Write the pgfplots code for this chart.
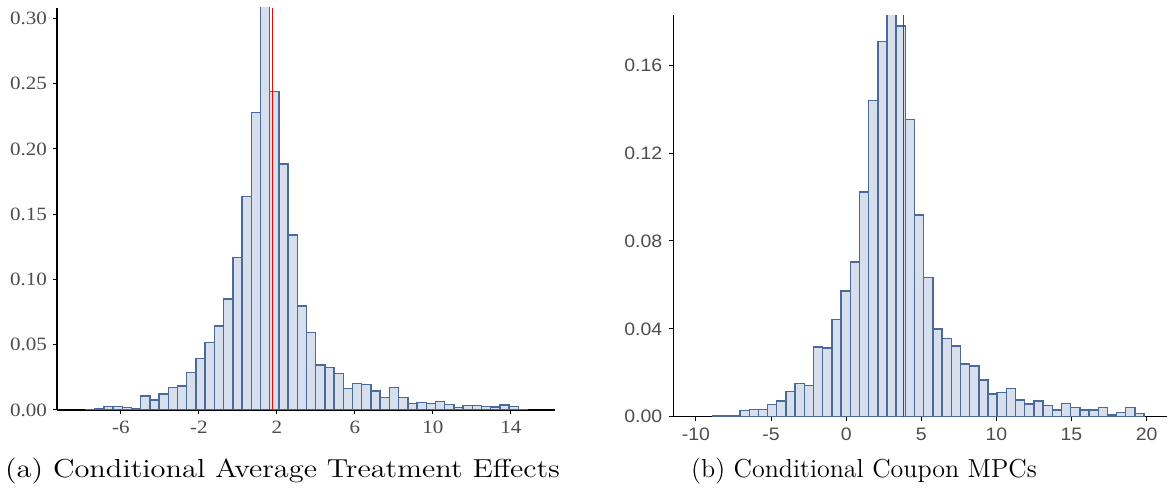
\documentclass[border=0pt]{standalone}
\usepackage{graphicx}
\usepackage{pgfplots}
\pgfplotsset{compat=1.18}
\usepackage{fontspec}
\newfontfamily\lserif{Liberation Serif}
\newfontfamily\lsans{Liberation Sans}
\definecolor{barfill}{HTML}{D6DFEB}
\definecolor{baredge}{HTML}{4B6A9C}
\definecolor{ticktext}{HTML}{4D4D4D}
\newcommand{\ls}[1]{{\fontsize{9.4pt}{10pt}\lserif\scalebox{1.12}[1]{#1}}}
\newcommand{\rs}[1]{{\fontsize{9pt}{10pt}\lsans\scalebox{1.08}[1]{#1}}}
\begin{document}
\begin{tikzpicture}
\path[use as bounding box] (0,0) rectangle (586.5pt,246pt);
\pgfplotsset{
  histo/.style={
    scale only axis,
    axis x line*=bottom, axis y line*=left,
    axis line style={black, line width=0.6pt, -},
    tick align=outside, major tick length=2pt,
    tick style={black, line width=0.5pt},
    minor tick num=0,
    clip=true,
  }
}
% ---------- Left panel ----------
\begin{axis}[histo,
  at={(28.5pt,41pt)}, anchor=south west,
  width=249pt, height=201pt,
  xmin=-9.28, xmax=16.26, ymin=0, ymax=0.308,
  xtick={-6,-2,2,6,10,14}, xticklabels={\ls{-6},\ls{-2},\ls{2},\ls{6},\ls{10},\ls{14}},
  ytick={0,0.05,0.10,0.15,0.20,0.25,0.30},
  yticklabels={\ls{0.00},\ls{0.05},\ls{0.10},\ls{0.15},\ls{0.20},\ls{0.25},\ls{0.30}},
  tick label style={text=ticktext},
  yticklabel style={xshift=0.5pt},
]
\addplot[ybar interval, fill=barfill, draw=baredge, line width=0.7pt] coordinates {
(-7.820,0.0005) (-7.348,0.0010) (-6.875,0.0026) (-6.403,0.0026) (-5.931,0.0020)
(-5.459,0.0010) (-4.986,0.0107) (-4.514,0.0077) (-4.042,0.0123) (-3.569,0.0171)
(-3.097,0.0184) (-2.625,0.0286) (-2.152,0.0396) (-1.680,0.0516) (-1.208,0.0643)
(-0.735,0.0850) (-0.263,0.1167) (0.209,0.1634) (0.681,0.2277) (1.154,0.3100)
(1.626,0.2438) (2.098,0.1884) (2.571,0.1340) (3.043,0.0797) (3.515,0.0595)
(3.988,0.0345) (4.460,0.0324) (4.932,0.0281) (5.405,0.0163) (5.877,0.0204)
(6.349,0.0197) (6.821,0.0146) (7.294,0.0094) (7.766,0.0171) (8.238,0.0094)
(8.711,0.0051) (9.183,0.0059) (9.655,0.0051) (10.128,0.0064) (10.600,0.0041)
(11.072,0.0020) (11.545,0.0036) (12.017,0.0036) (12.489,0.0028) (12.961,0.0023)
(13.434,0.0038) (13.906,0.0026) (14.378,0.0005) (14.851,0.0005)
};
\addplot[red, line width=0.55pt] coordinates {(1.77,0) (1.77,0.308)};
\end{axis}
% ---------- Right panel ----------
\begin{axis}[histo,
  at={(336.65pt,37.65pt)}, anchor=south west,
  width=246.7pt, height=200.8pt,
  xmin=-11.51, xmax=21.34, ymin=0, ymax=0.1828,
  xtick={-10,-5,0,5,10,15,20}, xticklabels={\rs{-10},\rs{-5},\rs{0},\rs{5},\rs{10},\rs{15},\rs{20}},
  ytick={0,0.04,0.08,0.12,0.16},
  yticklabels={\rs{0.00},\rs{0.04},\rs{0.08},\rs{0.12},\rs{0.16}},
  tick label style={text=ticktext},
]
\addplot[ybar interval, fill=barfill, draw=baredge, line width=0.7pt] coordinates {
(-8.900,0.0005) (-8.289,0.0005) (-7.677,0.0005) (-7.066,0.0027) (-6.454,0.0032)
(-5.843,0.0032) (-5.232,0.0055) (-4.620,0.0071) (-4.009,0.0114) (-3.397,0.0150)
(-2.786,0.0141) (-2.175,0.0317) (-1.563,0.0312) (-0.952,0.0443) (-0.340,0.0572)
(0.271,0.0705) (0.882,0.1022) (1.494,0.1438) (2.105,0.1709) (2.717,0.1840)
(3.328,0.1779) (3.939,0.1353) (4.551,0.0918) (5.162,0.0634) (5.774,0.0399)
(6.385,0.0356) (6.996,0.0322) (7.608,0.0240) (8.219,0.0231) (8.831,0.0167)
(9.442,0.0103) (10.053,0.0110) (10.665,0.0129) (11.276,0.0076) (11.888,0.0058)
(12.499,0.0071) (13.110,0.0050) (13.722,0.0030) (14.333,0.0061) (14.945,0.0042)
(15.556,0.0030) (16.167,0.0030) (16.779,0.0042) (17.390,0.0008) (18.002,0.0020)
(18.613,0.0042) (19.224,0.0015) (19.836,0.0015)
};
\addplot[red, line width=0.55pt] coordinates {(3.80,0) (3.80,0.1828)};
\end{axis}
% ---------- Captions ----------
\node[anchor=base, inner sep=0pt, font=\fontsize{13pt}{15pt}\selectfont] at (141.25pt,7pt) {\scalebox{1.17}[1]{(a) Conditional Average Treatment Effects}};
\node[anchor=base, inner sep=0pt, font=\fontsize{13pt}{15pt}\selectfont] at (432pt,7pt) {(b) Conditional Coupon MPCs};
\end{tikzpicture}
\end{document}
